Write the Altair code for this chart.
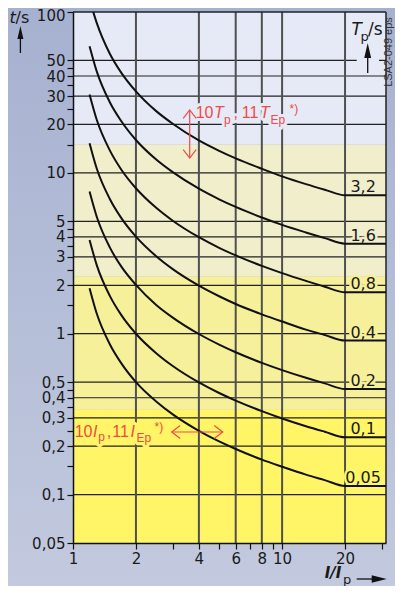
import altair as alt
import pandas as pd

# ---------------- data ----------------
X_MAX = 31.4

i_ratio = [1.2, 1.3, 1.5, 1.7, 2, 2.5, 3, 4, 5, 6, 8, 10, 13, 16, 20]
i_ratio_32 = [1.25, 1.3, 1.5, 1.7, 2, 2.5, 3, 4, 5, 6, 8, 10, 13, 16, 20]

t_32 = [100, 85.2, 55.0, 42.0, 32.1, 24.2, 20.2, 15.9, 13.7, 12.3, 10.6, 9.51, 8.51, 7.86, 7.25]
t_16 = [61.3, 42.6, 27.5, 21.0, 16.0, 12.1, 10.1, 7.97, 6.85, 6.14, 5.28, 4.75, 4.26, 3.93, 3.63]
t_08 = [30.7, 21.3, 13.8, 10.5, 8.02, 6.06, 5.04, 3.98, 3.42, 3.07, 2.64, 2.38, 2.13, 1.96, 1.81]
t_04 = [15.3, 10.6, 6.88, 5.25, 4.01, 3.03, 2.52, 1.99, 1.71, 1.53, 1.32, 1.19, 1.06, 0.982, 0.907]
t_02 = [7.66, 5.32, 3.44, 2.62, 2.01, 1.51, 1.26, 0.996, 0.856, 0.767, 0.659, 0.594, 0.532, 0.491, 0.453]
t_01 = [3.83, 2.66, 1.72, 1.31, 1.00, 0.757, 0.630, 0.498, 0.428, 0.384, 0.330, 0.297, 0.266, 0.246, 0.227]
t_005 = [1.92, 1.33, 0.86, 0.656, 0.50, 0.379, 0.315, 0.249, 0.214, 0.192, 0.165, 0.149, 0.133, 0.123, 0.113]

tp_labels = ["3,2", "1,6", "0,8", "0,4", "0,2", "0,1", "0,05"]

band_lo = [15, 2.27, 0.337, 0.05]
band_hi = [100, 15, 2.27, 0.337]

y_ticks = [0.05, 0.1, 0.15, 0.2, 0.25, 0.3, 0.35, 0.4, 0.45, 0.5, 1, 1.5, 2, 2.5, 3,
           3.5, 4, 4.5, 5, 10, 15, 20, 25, 30, 35, 40, 45, 50, 100]
y_labels = [0.05, 0.1, 0.2, 0.3, 0.4, 0.5, 1, 2, 3, 4, 5, 10, 20, 30, 40, 50, 100]
x_ticks = [1, 2, 3, 4, 5, 6, 7, 8, 9, 10, 20, 30]
x_labels = [1, 2, 4, 6, 8, 10, 20]
h_grid = [0.1, 0.2, 0.3, 0.4, 0.5, 1, 2, 3, 4, 5, 10, 20, 30, 40, 50]
v_grid = [2, 4, 6, 8, 10, 20]

# ---------------- styles ----------------
LAV = "#e6eaf6"
BEIGE = "#f0eecb"
PALE = "#f7f09a"
BRIGHT = "#fff566"
band_colors = [LAV, BEIGE, PALE, BRIGHT]
label_halo = [BEIGE, BEIGE, PALE, PALE, PALE, BRIGHT, BRIGHT]
RED = "#ee4a48"
INK = "#1a1a1a"
FONT = "DejaVu Sans"
RFONT = "Liberation Sans"

W, H = 313, 531
XS = alt.Scale(type="log", domain=[1, X_MAX], nice=False)
YS = alt.Scale(type="log", domain=[0.05, 100], nice=False)

AX_COMMON = dict(grid=False, tickSize=6, tickColor="#111", tickWidth=1.2,
                 domainColor="#111", domainWidth=1.5, labelFont=FONT,
                 labelFontSize=15, labelColor=INK, labelPadding=2,
                 labelOverlap=False, labelFlush=False, labelBound=False,
                 zindex=1, title=None)
XA = alt.Axis(values=x_ticks,
              labelExpr=f"indexof({x_labels}, datum.value) >= 0 ? toString(datum.value) : ''",
              **AX_COMMON)
YA = alt.Axis(values=y_ticks,
              labelOffset={"condition": {"test": "datum.value == 100", "value": 3.5},
                           "value": 0},
              labelExpr=f"indexof({y_labels}, datum.value) >= 0 ? replace(toString(datum.value), '.', ',') : ''",
              **AX_COMMON)

# ---------------- tables ----------------
rows = []
series = zip(tp_labels,
             [i_ratio_32] + [i_ratio] * 6,
             [t_32, t_16, t_08, t_04, t_02, t_01, t_005])
lab_rows = []
for lab, xs, ts in series:
    for k, (xv, tv) in enumerate(zip(xs, ts)):
        rows.append({"tp": lab, "x": xv, "t": tv, "i": k})
    rows.append({"tp": lab, "x": X_MAX, "t": ts[-1], "i": len(xs)})
    lab_rows.append({"tp": lab, "t": ts[-1]})
curves = pd.DataFrame(rows)
labels = pd.DataFrame(lab_rows)
labels["halo"] = label_halo
labels["lx"] = 24.4

bands = pd.DataFrame({"lo": band_lo, "hi": band_hi, "c": band_colors})
hg = pd.DataFrame({"v": h_grid})
vg = pd.DataFrame({"v": v_grid})
one = pd.DataFrame({"k": [0]})

# ---------------- layers ----------------
bg = alt.Chart(one).mark_rect(
    color=alt.LinearGradient(
        gradient="linear",
        stops=[alt.GradientStop(offset=0, color="#a6b1d0"),
               alt.GradientStop(offset=1, color="#c3cadf")],
        x1=0, x2=0, y1=0, y2=1)
).encode(x=alt.value(-70), x2=alt.value(335), y=alt.value(-8), y2=alt.value(580))

band_layer = alt.Chart(bands).mark_rect().encode(
    x=alt.value(0), x2=alt.value(W),
    y=alt.Y("lo:Q", scale=YS, axis=YA), y2="hi:Q",
    color=alt.Color("c:N", scale=None))

hgrid = alt.Chart(hg).mark_rule(color="#222", strokeWidth=1.2).encode(
    y=alt.Y("v:Q", scale=YS, axis=YA))
vgrid = alt.Chart(vg).mark_rule(color="#505050", strokeWidth=2).encode(
    x=alt.X("v:Q", scale=XS, axis=XA))
border_top = alt.Chart(one).mark_rule(color="#222", strokeWidth=1.5).encode(
    x=alt.value(0), x2=alt.value(W), y=alt.value(0))
border_right = alt.Chart(one).mark_rule(color="#222", strokeWidth=1.5).encode(
    x=alt.value(W), y=alt.value(0), y2=alt.value(H))
gap = alt.Chart(one).mark_rect(color=LAV).encode(
    x=alt.value(283.7), x2=alt.value(306), y=alt.value(44), y2=alt.value(53))

halos = []
texts = []


def txt(text, px, py, size=16, color=INK, style="normal", weight="normal",
        font=FONT, align="left", baseline="alphabetic", angle=0, halo=None):
    kw = dict(text=text, font=font, fontSize=size, fontStyle=style,
              fontWeight=weight, align=align, baseline=baseline, angle=angle)
    enc = dict(x=alt.value(px), y=alt.value(py))
    if halo:
        halos.append(alt.Chart(one).mark_text(
            fill=halo, stroke=halo, strokeWidth=6, strokeJoin="round", **kw
        ).encode(**enc))
    texts.append(alt.Chart(one).mark_text(color=color, **kw).encode(**enc))


# red annotation, upper  (plot-pixel positions)
for t, px, py, sz, st in [("10", 122.7, 105.7, 16, "normal"),
                          ("T", 141, 105.7, 16, "italic"),
                          ("p", 151, 111.5, 12, "normal"),
                          (",", 160.5, 105.7, 16, "normal"),
                          ("11", 168.7, 105.7, 16, "normal"),
                          ("T", 187, 105.7, 16, "italic"),
                          ("Ep", 197.5, 111.5, 12, "normal"),
                          ("*)", 216.5, 100.5, 12, "normal")]:
    txt(t, px, py, sz, RED, st, font=RFONT, halo=LAV)
# red annotation, lower
for t, px, py, sz, st in [("10", 1.7, 424.7, 16, "normal"),
                          ("I", 20, 424.7, 16, "italic"),
                          ("p", 25.2, 429, 12, "normal"),
                          (",", 33.7, 424.7, 16, "normal"),
                          ("11", 39.2, 424.7, 16, "normal"),
                          ("I", 57.5, 424.7, 16, "italic"),
                          ("Ep", 63.5, 429.5, 12, "normal"),
                          ("*)", 81.5, 419, 12, "normal")]:
    txt(t, px, py, sz, RED, st, font=RFONT, halo=BRIGHT)

# axis titles and side note
txt("t", -63.5, 11, 16, INK, "italic")
txt("/s", -57.5, 11, 16, INK)
txt("T", 278.5, 23, 17, INK, "italic")
txt("p", 287.5, 28.5, 13, INK)
txt("/s", 295, 23, 17, INK)
txt("I/I", 251.7, 566, 15, INK, "italic", "bold")
txt("p", 270, 572, 13, INK)
txt("LSA2-049 eps", 319.3, 40, 11, "#333", font="Liberation Sans",
    align="center", baseline="alphabetic", angle=270)

label_halo_layer = alt.Chart(labels).mark_text(
    font=FONT, fontSize=16, align="center", baseline="alphabetic", dy=-3,
    strokeWidth=5, strokeJoin="round"
).encode(x=alt.X("lx:Q", scale=XS, axis=XA),
         y=alt.Y("t:Q", scale=YS, axis=YA),
         text="tp:N",
         fill=alt.Fill("halo:N", scale=None),
         stroke=alt.Stroke("halo:N", scale=None))

curve_layer = alt.Chart(curves).mark_line(
    color="#111", strokeWidth=2, interpolate="monotone"
).encode(
    x=alt.X("x:Q", scale=XS, axis=XA),
    y=alt.Y("t:Q", scale=YS, axis=YA),
    detail="tp:N",
    order="i:Q")

label_layer = alt.Chart(labels).mark_text(
    font=FONT, fontSize=16, align="center", baseline="alphabetic", dy=-3, color=INK
).encode(x=alt.X("lx:Q", scale=XS, axis=XA),
         y=alt.Y("t:Q", scale=YS, axis=YA),
         text="tp:N")


# arrows
def shaft(x, y, x2=None, y2=None, color=RED, w=1.2):
    enc = dict(x=alt.value(x), y=alt.value(y))
    if x2 is not None:
        enc["x2"] = alt.value(x2)
    if y2 is not None:
        enc["y2"] = alt.value(y2)
    return alt.Chart(one).mark_rule(color=color, strokeWidth=w).encode(**enc)


def head(x, y, path, size, color=RED, filled=False, w=1.2):
    return alt.Chart(one).mark_point(
        shape=path, size=size, filled=filled, color=color, opacity=1,
        strokeWidth=w).encode(x=alt.value(x), y=alt.value(y))


arrows = [
    shaft(116.7, 98, y2=146),
    head(116.7, 98, "M-1,1.3L0,0L1,1.3", 169),
    head(116.7, 146, "M-1,-1.3L0,0L1,-1.3", 169),
    shaft(98.7, 420, x2=149.7),
    head(98.7, 420, "M1.3,-1L0,0L1.3,1", 169),
    head(149.7, 420, "M-1.3,-1L0,0L-1.3,1", 169),
    # t/s arrow
    shaft(-52.6, 27, y2=41, color="#111", w=1.3),
    head(-52.6, 20.5, "M0,-1L0.46,1L-0.46,1Z", 169, "#111", True, 0.5),
    # Tp/s arrow
    shaft(294.7, 45, y2=61, color="#111", w=1.3),
    head(294.7, 38.5, "M0,-1L0.46,1L-0.46,1Z", 225, "#111", True, 0.5),
    # I/Ip arrow
    shaft(283.7, 567, x2=300, color="#111", w=1.3),
    head(306.2, 567, "M1,0L-1,-0.5L-1,0.5Z", 225, "#111", True, 0.5),
]

chart = alt.layer(
    bg, band_layer, hgrid, vgrid, border_top, border_right, gap,
    *halos, label_halo_layer, curve_layer, label_layer, *arrows, *texts
).properties(
    width=W, height=H,
    autosize=alt.AutoSizeParams(type="none"),
    padding={"left": 65, "top": 4, "right": 9, "bottom": 43},
).configure_view(stroke=None).configure(background="#b5bed9")

chart.save("out.html", embed_options={"renderer": "svg", "actions": False})
